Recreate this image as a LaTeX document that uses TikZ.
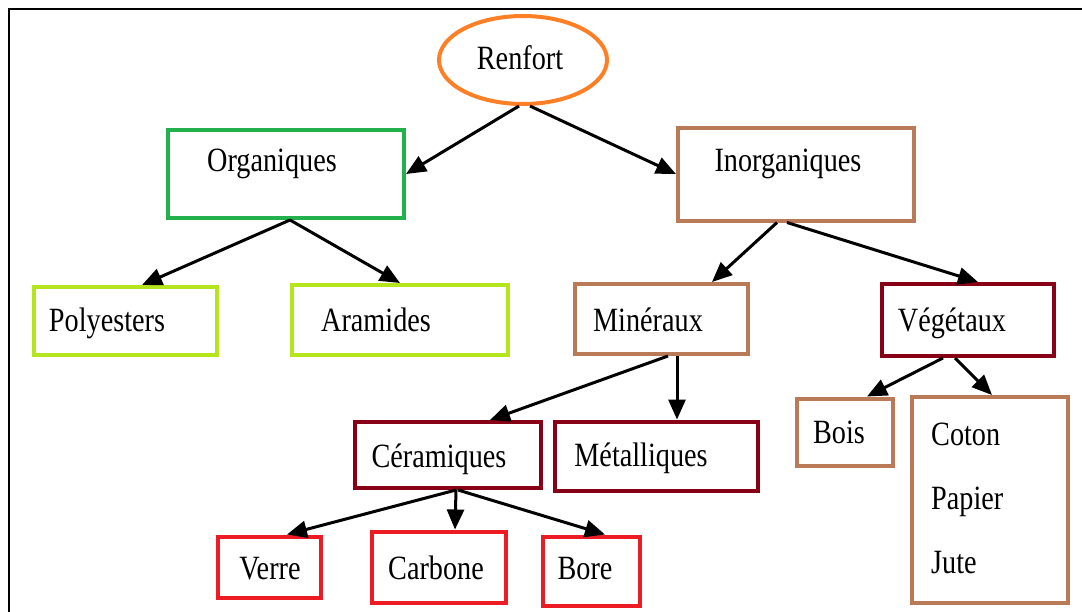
\documentclass[tikz,border=0pt]{standalone}
\usepackage{fontspec}
\setmainfont[FakeStretch=0.83]{Liberation Serif}
\usepackage{tikz}
\usetikzlibrary{arrows.meta}
\usetikzlibrary{shapes.geometric}

\definecolor{renfortc}{RGB}{255,127,39}
\definecolor{orgc}{RGB}{34,177,76}
\definecolor{limec}{RGB}{181,230,29}
\definecolor{brunc}{RGB}{185,122,87}
\definecolor{bordc}{RGB}{136,0,21}
\definecolor{rougec}{RGB}{237,28,36}

\tikzset{box/.style = {draw=#1, line width=4, inner sep=0, rectangle}}
\tikzset{lbl/.style = {inner sep=0, text height=23, text depth=0,
                       font=\fontsize{34}{64}\selectfont}}
\tikzset{fleche/.style = {line width=3, -{Triangle[length=20, width=17]}}}

\begin{document}
\begin{tikzpicture}[x=1pt, y=-1pt]
      \useasboundingbox (0, 0) rectangle (1082, 611);
      \draw [line width=2.5] (9, 620) -- (9, 9) -- (1090, 9);

      \node [ellipse, draw=renfortc, line width=4, inner sep=0,
             minimum width=168, minimum height=88] (ren) at (523, 60) {};
      \node [lbl] (rent) at (520, 58) {Renfort};

      \node [box=orgc, minimum width=236, minimum height=88] (org) at (286, 174) {};
      \node [lbl] (orgt) at (272, 160) {Organiques};
      \node [box=brunc, minimum width=236, minimum height=93] (inorg) at (796, 174) {};
      \node [lbl] (inorgt) at (788, 160) {Inorganiques};

      \node [box=limec, minimum width=183, minimum height=68] (poly) at (125, 321) {};
      \node [lbl] (polyt) at (107, 320) {Polyesters};
      \node [box=limec, minimum width=216, minimum height=70] (aram) at (400, 320) {};
      \node [lbl] (aramt) at (376, 320) {Aramides};
      \node [box=brunc, minimum width=173, minimum height=70] (mine) at (661, 319) {};
      \node [lbl] (minet) at (648, 320) {Minéraux};
      \node [box=bordc, minimum width=172, minimum height=72] (vege) at (968, 320) {};
      \node [lbl] (veget) at (952, 320) {Végétaux};

      \node [box=bordc, minimum width=186, minimum height=66] (ceram) at (448, 455) {};
      \node [lbl] (ceramt) at (439, 456) {Céramiques};
      \node [box=bordc, minimum width=203, minimum height=69] (metal) at (656, 456) {};
      \node [lbl] (metalt) at (641, 455) {Métalliques};
      \node [box=brunc, minimum width=96, minimum height=67] (bois) at (845, 432) {};
      \node [lbl] (boist) at (839, 432) {Bois};
      \node [box=brunc, minimum width=156, minimum height=206] (coton) at (990, 500) {};
      \node [lbl, anchor=west, align=left, text height=, text depth=] (cotont) at (931, 498)
            {Coton\\Papier\\Jute};

      \node [box=rougec, minimum width=103, minimum height=61] (verre) at (269, 567) {};
      \node [lbl] (verret) at (270, 568) {Verre};
      \node [box=rougec, minimum width=134, minimum height=71] (carb) at (439, 567) {};
      \node [lbl] (carbt) at (436, 568) {Carbone};
      \node [box=rougec, minimum width=97, minimum height=69] (bore) at (591, 571) {};
      \node [lbl] (boret) at (585, 568) {Bore};

      % arbre
      \draw [fleche] ([xshift=-4]ren.south) -- (org.east);
      \draw [fleche] ([xshift=7]ren.south) -- (inorg.west);

      \draw [fleche] ([xshift=4]org.south) -- ([xshift=17]poly.north);
      \draw [fleche] ([xshift=4]org.south) -- (aram.north);

      \draw [fleche] ([xshift=-19]inorg.south) -- ([xshift=51]mine.north);
      \draw [fleche] ([xshift=-9]inorg.south) -- ([xshift=10]vege.north);

      \draw [fleche] ([xshift=7]mine.south) -- ([xshift=42]ceram.north);
      \draw [fleche] ([xshift=16]mine.south) -- ([xshift=21]metal.north);

      \draw [fleche] ([xshift=-25]vege.south) -- ([xshift=22]bois.north);
      \draw [fleche] ([xshift=-13]vege.south) -- ([xshift=2]coton.north);

      \draw [fleche] ([xshift=8]ceram.south) -- ([xshift=18]verre.north);
      \draw [fleche] ([xshift=8]ceram.south) -- ([xshift=16]carb.north);
      \draw [fleche] ([xshift=10]ceram.south) -- ([xshift=14]bore.north);
    \end{tikzpicture}
\end{document}
